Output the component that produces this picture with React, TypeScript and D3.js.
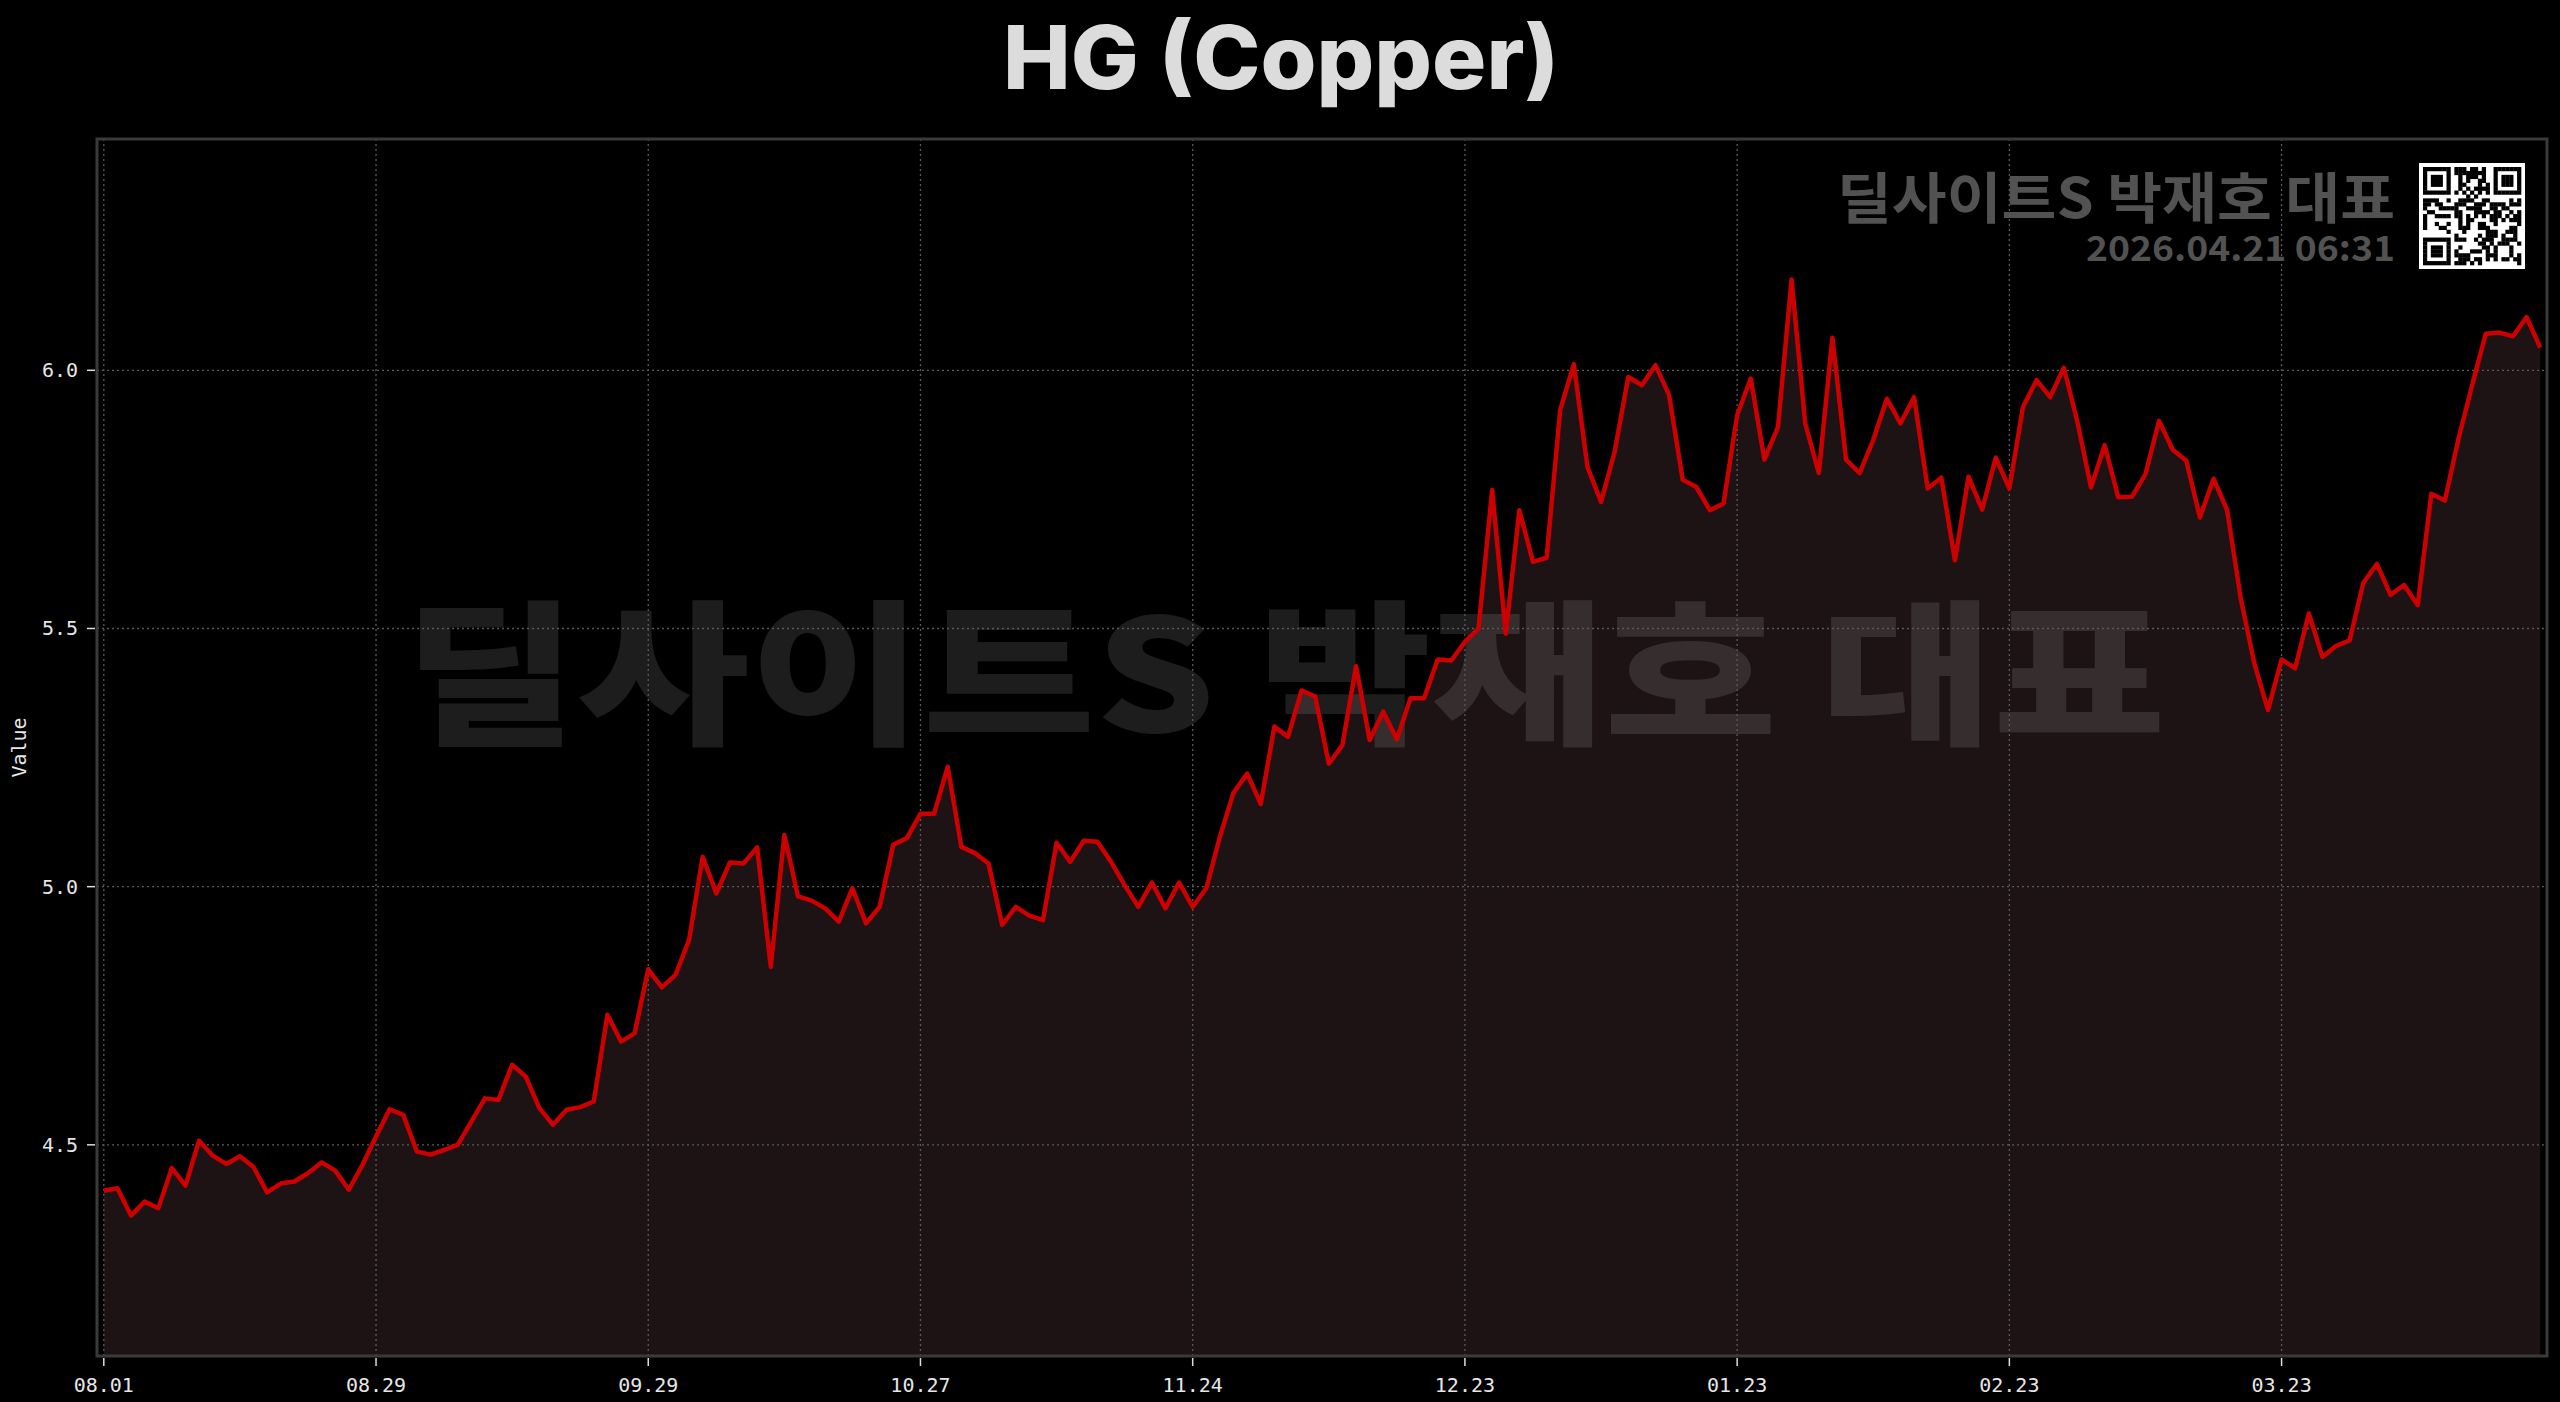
import React, { useEffect } from 'react';
import * as d3 from 'd3';

const W = 2560;
const H = 1402;

const TITLE = 'HG (Copper)';
const Y_LABEL = 'Value';
const WATERMARK = '딜사이트S 박재호 대표';
const STAMP = '2026.04.21 06:31';

// daily closing values, one per trading day (index-based x axis)
const values: number[] = [
  4.411, 4.416, 4.363, 4.390, 4.377, 4.455, 4.421, 4.508, 4.479, 4.463,
  4.478, 4.457, 4.408, 4.425, 4.429, 4.445, 4.466, 4.450, 4.413, 4.461,
  4.516, 4.569, 4.558, 4.487, 4.481, 4.490, 4.500, 4.545, 4.590, 4.587,
  4.655, 4.632, 4.571, 4.539, 4.568, 4.573, 4.584, 4.752, 4.700, 4.716,
  4.840, 4.805, 4.829, 4.897, 5.058, 4.987, 5.047, 5.045, 5.076, 4.845,
  5.100, 4.981, 4.973, 4.958, 4.932, 4.997, 4.929, 4.961, 5.081, 5.094,
  5.141, 5.141, 5.232, 5.077, 5.065, 5.045, 4.926, 4.961, 4.944, 4.935,
  5.085, 5.048, 5.089, 5.087, 5.048, 5.003, 4.961, 5.008, 4.958, 5.008,
  4.961, 4.997, 5.097, 5.182, 5.219, 5.160, 5.310, 5.290, 5.380, 5.368,
  5.238, 5.274, 5.427, 5.284, 5.339, 5.285, 5.365, 5.365, 5.440, 5.438,
  5.474, 5.500, 5.768, 5.490, 5.729, 5.629, 5.637, 5.923, 6.012, 5.813,
  5.745, 5.842, 5.987, 5.971, 6.010, 5.952, 5.788, 5.774, 5.729, 5.742,
  5.913, 5.984, 5.827, 5.890, 6.176, 5.897, 5.801, 6.063, 5.827, 5.801,
  5.865, 5.945, 5.897, 5.948, 5.771, 5.792, 5.632, 5.794, 5.730, 5.831,
  5.771, 5.929, 5.981, 5.948, 6.005, 5.900, 5.773, 5.855, 5.754, 5.755,
  5.799, 5.902, 5.846, 5.825, 5.715, 5.790, 5.729, 5.558, 5.432, 5.342,
  5.440, 5.423, 5.529, 5.445, 5.466, 5.477, 5.588, 5.625, 5.565, 5.584,
  5.545, 5.761, 5.748, 5.868, 5.971, 6.071, 6.073, 6.066, 6.103, 6.044,
];

const xTickIndices: number[] = [0, 20, 40, 60, 80, 100, 120, 140, 160];
const xTickLabels: string[] = ['08.01', '08.29', '09.29', '10.27', '11.24', '12.23', '01.23', '02.23', '03.23'];
const yTicks: number[] = [4.5, 5.0, 5.5, 6.0];

const PLOT = { left: 97, right: 2547, top: 139, bottom: 1356 };

// deterministic decorative QR-like module grid
const QR_N = 25;
function qrModule(r: number, c: number): boolean {
  const inFinder = (r0: number, c0: number) => r >= r0 && r < r0 + 7 && c >= c0 && c < c0 + 7;
  const finder = (r0: number, c0: number) => {
    const rr = r - r0, cc = c - c0;
    if (rr === 0 || rr === 6 || cc === 0 || cc === 6) return true;
    if (rr >= 2 && rr <= 4 && cc >= 2 && cc <= 4) return true;
    return false;
  };
  if (inFinder(0, 0)) return finder(0, 0);
  if (inFinder(0, QR_N - 7)) return finder(0, QR_N - 7);
  if (inFinder(QR_N - 7, 0)) return finder(QR_N - 7, 0);
  if ((r === 7 && c < 8) || (c === 7 && r < 8)) return false;
  if ((r === 7 && c >= QR_N - 8) || (c === QR_N - 8 && r < 8)) return false;
  if ((r === QR_N - 8 && c < 8) || (c === 7 && r >= QR_N - 8)) return false;
  if (r === 6) return c % 2 === 0;
  if (c === 6) return r % 2 === 0;
  let h = (r * 73856093) ^ (c * 19349663) ^ (r * c * 83492791);
  h = (h ^ (h >>> 13)) * 1274126177;
  h = h ^ (h >>> 16);
  return (h & 7) < 4;
}

export default function App() {
  useEffect(() => {
    document.body.style.margin = '0';
    document.body.style.background = '#000';
  }, []);

  const x = d3.scaleLinear().domain([-0.5, values.length - 0.5]).range([PLOT.left, PLOT.right]);
  const [vmin, vmax] = d3.extent(values) as [number, number];
  const pad = (vmax - vmin) * 0.15;
  const y = d3.scaleLinear().domain([vmin - pad, vmax + pad]).range([PLOT.bottom, PLOT.top]);

  const line = d3.line<number>().x((_, i) => x(i)).y((d) => y(d));
  const area = d3.area<number>().x((_, i) => x(i)).y0(PLOT.bottom).y1((d) => y(d));

  const qrX = 2419, qrY = 163, qrSize = 106, qrPad = 4;
  const cell = (qrSize - 2 * qrPad) / QR_N;
  const qrCells: JSX.Element[] = [];
  for (let r = 0; r < QR_N; r++) {
    for (let c = 0; c < QR_N; c++) {
      if (qrModule(r, c)) {
        qrCells.push(
          <rect key={`${r}-${c}`} x={qrX + qrPad + c * cell} y={qrY + qrPad + r * cell} width={cell + 0.3} height={cell + 0.3} fill="#000" />
        );
      }
    }
  }

  const mono = '"DejaVu Sans Mono", "Liberation Mono", monospace';
  const kr = '"Noto Sans CJK KR", "Noto Sans", sans-serif';

  return (
    <svg width={W} height={H} viewBox={`0 0 ${W} ${H}`} style={{ position: 'absolute', left: 0, top: 0, display: 'block' }}>
      <rect x={0} y={0} width={W} height={H} fill="#000" />

      {/* area fill */}
      <path d={area(values) || ''} fill="#1d1314" />

      {/* big watermark */}
      <text x={404} y={732} textAnchor="start" fontFamily={kr} fontWeight={900} fontSize={156}
        textLength={1762} lengthAdjust="spacingAndGlyphs" fill="#fff" fillOpacity={0.115}>
        {WATERMARK}
      </text>

      {/* top-right watermark */}
      <text x={1837} y={218} textAnchor="start" fontFamily={kr} fontWeight={700} fontSize={55}
        textLength={558} lengthAdjust="spacingAndGlyphs" fill="#525252">
        {WATERMARK}
      </text>
      <text x={2086} y={261} textAnchor="start" fontFamily={kr} fontWeight={700} fontSize={35}
        textLength={309} lengthAdjust="spacingAndGlyphs" fill="#525252">
        {STAMP}
      </text>
      <rect x={qrX} y={qrY} width={qrSize} height={qrSize} fill="#fff" />
      {qrCells}

      {/* grid */}
      {xTickIndices.map((t) => (
        <line key={`gx${t}`} x1={x(t)} x2={x(t)} y1={PLOT.top} y2={PLOT.bottom} stroke="#5a5a5a" strokeWidth={1.3} strokeDasharray="2,3" />
      ))}
      {yTicks.map((t) => (
        <line key={`gy${t}`} x1={PLOT.left} x2={PLOT.right} y1={y(t)} y2={y(t)} stroke="#5a5a5a" strokeWidth={1.3} strokeDasharray="2,3" />
      ))}

      {/* data line */}
      <path d={line(values) || ''} fill="none" stroke="#cc0000" strokeWidth={4.5} strokeLinejoin="round" />

      {/* frame */}
      <rect x={PLOT.left} y={PLOT.top} width={PLOT.right - PLOT.left} height={PLOT.bottom - PLOT.top} fill="none" stroke="#3a3a3a" strokeWidth={3} />

      {/* x ticks */}
      {xTickIndices.map((t, i) => (
        <g key={`xt${t}`}>
          <line x1={x(t)} x2={x(t)} y1={PLOT.bottom + 2} y2={PLOT.bottom + 10} stroke="#ddd" strokeWidth={1.5} />
          <text x={x(t)} y={1392} textAnchor="middle" fontFamily={mono} fontSize={20} fill="#e6e6e6">
            {xTickLabels[i]}
          </text>
        </g>
      ))}

      {/* y ticks */}
      {yTicks.map((t) => (
        <g key={`yt${t}`}>
          <line x1={PLOT.left - 10} x2={PLOT.left - 2} y1={y(t)} y2={y(t)} stroke="#ddd" strokeWidth={1.5} />
          <text x={78} y={y(t)} dy="0.35em" textAnchor="end" fontFamily={mono} fontSize={20} fill="#e6e6e6">
            {d3.format('.1f')(t)}
          </text>
        </g>
      ))}

      {/* y label */}
      <text transform={`translate(26, ${(PLOT.top + PLOT.bottom) / 2}) rotate(-90)`} textAnchor="middle" fontFamily={mono} fontSize={20} fill="#e6e6e6">
        {Y_LABEL}
      </text>

      {/* title */}
      <text x={1003} y={89} textAnchor="start" fontFamily='Inter, "Open Sans", sans-serif' fontWeight={800} fontSize={88}
        textLength={556} lengthAdjust="spacingAndGlyphs" fill="#dcdcdc">
        {TITLE}
      </text>
    </svg>
  );
}
